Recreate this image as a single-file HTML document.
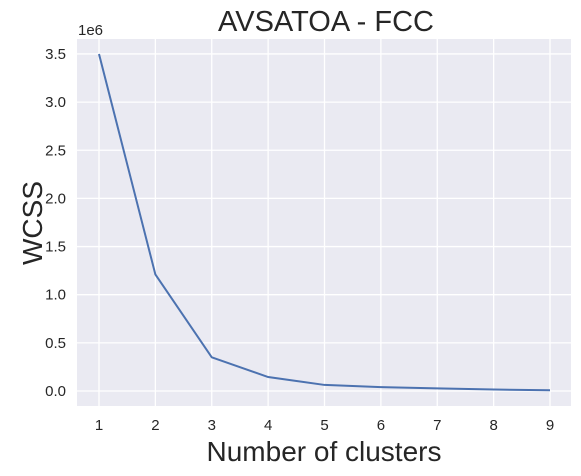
<!DOCTYPE html>
<html><head><meta charset="utf-8"><style>
body{margin:0;background:#fff;}
svg{display:block;font-family:"Liberation Sans",sans-serif;}
</style></head><body>
<svg id="chart" width="581" height="476">
<rect x="77" y="39" width="494" height="367" fill="#eaeaf2"/>
<g id="grid"></g>
<g id="ticks"></g>
<path id="line" fill="none" stroke="#4c72b0" stroke-width="2"/>
<text x="326" y="31" text-anchor="middle" font-size="29" fill="#262626">AVSATOA - FCC</text>
<text x="78" y="35" font-size="15" fill="#262626">1e6</text>
<text x="324" y="461" text-anchor="middle" font-size="28" fill="#262626">Number of clusters</text>
<text transform="translate(42,223) rotate(-90)" text-anchor="middle" font-size="28" fill="#262626">WCSS</text>
</svg>
<script>
const clusters=[1,2,3,4,5,6,7,8,9];
const wcss=[3.5,1.21,0.35,0.145,0.063,0.04,0.027,0.015,0.008];
const yTicks=[0,0.5,1.0,1.5,2.0,2.5,3.0,3.5];
const ns="http://www.w3.org/2000/svg";
const sx=v=>99+(v-1)*56.375;
const sy=v=>391-v*96.3;
const grid=document.getElementById('grid'),ticks=document.getElementById('ticks');
function mk(tag,attrs,parent){const e=document.createElementNS(ns,tag);for(const k in attrs)e.setAttribute(k,attrs[k]);parent.appendChild(e);return e;}
clusters.forEach(c=>{
 const l=mk('line',{x1:sx(c),x2:sx(c),y1:39,y2:406,stroke:'#fff','stroke-width':1.3},grid);
 
 
 const t=mk('text',{x:sx(c),y:430,'text-anchor':'middle','font-size':15,fill:'#262626'},ticks);
 t.textContent=c;
 
 
});
yTicks.forEach(v=>{
 const l=mk('line',{x1:77,x2:571,y1:sy(v),y2:sy(v),stroke:'#fff','stroke-width':1.3},grid);
 
 
 const t=mk('text',{x:66,y:sy(v)+5,'text-anchor':'end','font-size':15,fill:'#262626'},ticks);
 t.textContent=v.toFixed(1);
 
 
});
document.getElementById('line').setAttribute('d',clusters.map((c,i)=>(i?'L':'M')+sx(c)+','+sy(wcss[i])).join(' '));
</script>
</body></html>
